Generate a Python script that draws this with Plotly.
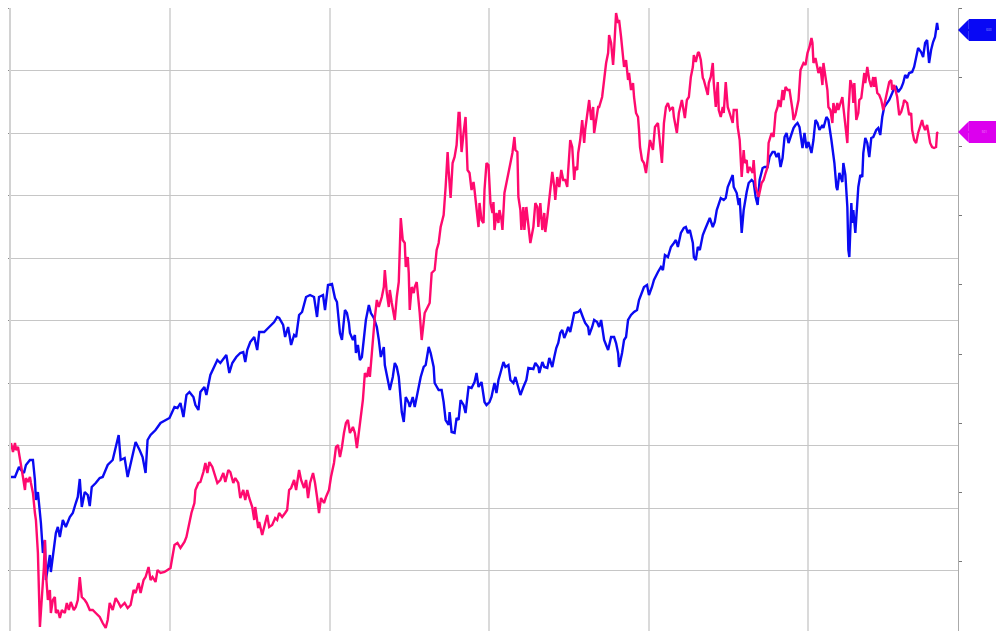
import plotly.graph_objects as go

# (day, level) readings for the two series
blue_series = [(0,156),(4,156),(8,166),(10,163),(13,160),(15,168),(19,173),(22,173),(24,153),(25,133),(27,141),(29,120),(30,110),(32,80),(34,93),(35,53),(37,66),(39,78),(40,61),(42,76),(45,100),(47,106),(49,96),(52,113),(55,106),(59,116),(62,120),(65,130),(67,136),(69,154),(71,126),(74,141),(77,138),(79,127),(81,146),(85,150),(89,155),(92,156),(97,168),(102,173),(105,186),(108,198),(110,173),(114,175),(117,156),(120,170),(125,191),(129,183),(132,176),(135,160),(137,193),(140,198),(145,203),(150,210),(155,213),(159,215),(164,226),(167,225),(170,230),(173,216),(176,238),(179,241),(183,236),(185,228),(188,223),(190,241),(194,246),(196,238),(200,258),(204,266),(207,273),(210,270),(214,276),(216,278),(219,260),(222,270),(226,276),(230,280),(233,281),(235,271),(237,283),(240,291),(244,296),(247,283),(249,301),(254,301),(258,305),(261,308),(264,311),(267,316),(269,315),(273,308),(275,296),(278,306),(281,288),(284,298),(286,296),(289,318),(292,321),(296,336),(300,338),(304,336),(307,316),(309,336),(313,338),(315,323),(318,348),(322,349),(325,335),(327,331),(330,300),(332,293),(335,323),(337,320),(339,310),(340,300),(343,293),(345,298),(346,280),(348,288),(350,273),(352,276),(355,306),(356,313),(359,328),(361,320),(364,315),(367,306),(369,293),(371,276),(374,286),(375,268),(378,253),(380,243),(383,256),(385,270),(387,266),(389,256),(392,221),(394,211),(396,236),(399,230),(400,226),(403,236),(405,226),(409,246),(411,256),(414,266),(416,268),(419,286),(421,280),(424,266),(425,250),(429,243),(432,243),(434,231),(436,213),(439,208),(440,221),(442,201),(445,200),(447,215),(449,213),(451,233),(454,228),(456,220),(459,246),(462,245),(465,251),(467,260),(469,246),(472,251),(475,231),(477,228),(480,231),(482,236),(485,250),(487,240),(489,253),(491,260),(494,271),(496,266),(499,268),(501,253),(504,250),(506,256),(509,245),(511,238),(514,246),(517,253),(519,265),(524,264),(526,270),(529,266),(530,260),(533,271),(535,266),(538,265),(540,275),(543,266),(545,276),(547,285),(549,290),(551,300),(553,303),(555,295),(557,300),(559,306),(561,301),(564,313),(565,320),(569,321),(571,323),(574,315),(576,310),(579,306),(580,298),(583,306),(585,313),(588,311),(590,306),(592,313),(595,293),(597,288),(599,283),(602,296),(605,296),(607,290),(609,280),(610,266),(613,280),(615,293),(617,296),(619,313),(622,318),(625,321),(628,323),(630,333),(633,340),(635,346),(638,348),(640,338),(643,346),(645,353),(649,361),(652,366),(654,363),(656,378),(659,376),(662,386),(665,390),(667,393),(669,386),(672,400),(675,405),(677,406),(679,400),(681,403),(684,390),(685,376),(687,373),(689,386),(691,383),(694,398),(696,403),(699,411),(701,415),(704,406),(706,411),(708,423),(710,430),(712,435),(715,433),(717,435),(719,446),(722,453),(724,458),(725,446),(728,440),(730,428),(731,435),(733,400),(735,423),(738,441),(740,450),(743,453),(745,451),(747,436),(749,428),(751,453),(754,465),(756,466),(759,466),(761,476),(764,481),(766,481),(768,476),(770,480),(772,466),(774,475),(776,496),(778,500),(780,490),(782,496),(785,505),(787,508),(789,510),(791,506),(794,485),(796,500),(798,485),(800,491),(803,480),(805,493),(807,513),(809,510),(811,503),(814,508),(815,505),(818,516),(820,513),(823,493),(825,480),(826,470),(828,446),(829,443),(831,460),(834,451),(835,470),(837,458),(839,426),(840,383),(841,376),(843,430),(844,410),(845,423),(847,400),(849,436),(850,446),(852,458),(854,456),(855,480),(857,495),(859,490),(861,476),(863,495),(865,496),(868,503),(870,505),(872,498),(874,516),(876,526),(879,531),(881,533),(884,540),(886,545),(888,546),(890,541),(893,545),(895,550),(897,558),(899,555),(901,560),(904,561),(906,566),(908,575),(910,585),(913,581),(915,576),(917,590),(919,593),(921,570),(923,583),(925,591),(927,596),(929,610),(930,603)]

pink_series = [(0,190),(2,181),(4,190),(5,183),(7,186),(9,175),(10,166),(12,156),(14,143),(15,155),(17,151),(19,156),(20,150),(22,140),(24,120),(25,113),(27,80),(28,46),(29,6),(31,36),(33,66),(34,93),(35,60),(37,33),(39,43),(40,20),(42,33),(44,36),(45,20),(47,23),(49,15),(51,23),(54,20),(56,30),(58,23),(60,31),(63,23),(65,26),(67,33),(69,56),(71,36),(74,33),(76,30),(79,23),(82,23),(85,20),(89,16),(92,10),(95,5),(97,13),(99,30),(102,23),(105,35),(108,30),(110,26),(114,30),(117,25),(120,28),(123,43),(125,40),(128,50),(130,40),(133,53),(135,56),(138,66),(140,53),(142,56),(145,51),(147,63),(150,60),(154,61),(157,63),(160,65),(164,88),(167,90),(170,85),(174,91),(176,96),(179,110),(181,120),(184,130),(185,143),(188,150),(190,151),(193,161),(195,170),(197,160),(199,171),(202,166),(205,156),(207,150),(210,153),(213,160),(215,151),(218,163),(220,161),(223,150),(225,155),(228,150),(230,135),(233,143),(235,133),(237,143),(239,135),(242,126),(244,113),(245,126),(248,105),(249,111),(252,98),(255,110),(257,118),(259,106),(262,108),(265,115),(267,113),(269,120),(272,116),(275,120),(277,123),(279,143),(281,145),(284,153),(286,143),(289,163),(291,153),(294,145),(296,153),(298,135),(300,150),(303,160),(305,150),(307,136),(309,120),(311,135),(314,130),(316,136),(319,143),(321,156),(324,170),(326,186),(328,188),(330,176),(332,186),(334,200),(336,210),(338,213),(340,200),(343,206),(345,200),(347,185),(349,200),(351,213),(353,233),(355,260),(357,256),(359,266),(360,256),(362,280),(364,306),(365,316),(367,333),(369,326),(372,336),(374,346),(375,363),(377,340),(379,326),(380,343),(382,330),(384,316),(385,313),(387,336),(389,351),(391,415),(393,393),(395,390),(396,366),(398,376),(399,360),(400,323),(402,346),(404,340),(405,346),(407,351),(409,333),(410,320),(412,293),(414,310),(415,320),(418,326),(420,330),(422,360),(425,363),(427,383),(429,390),(431,406),(434,418),(436,446),(438,481),(439,463),(441,435),(443,470),(445,476),(447,488),(449,520),(450,520),(452,481),(454,500),(456,516),(458,463),(460,460),(462,443),(464,451),(465,443),(467,423),(469,406),(470,430),(472,413),(474,410),(475,443),(477,470),(479,468),(481,430),(483,420),(484,431),(485,403),(487,420),(489,410),(490,423),(492,413),(493,403),(495,440),(497,450),(499,460),(501,473),(503,480),(505,496),(506,483),(508,481),(509,436),(511,423),(512,403),(514,426),(515,403),(517,426),(519,406),(520,400),(521,390),(524,406),(526,430),(528,426),(529,406),(531,430),(533,403),(535,420),(536,401),(538,416),(540,433),(541,446),(543,461),(545,446),(546,433),(548,456),(550,446),(552,463),(554,453),(556,453),(558,446),(559,463),(561,493),(563,486),(565,453),(566,466),(568,463),(569,480),(571,493),(573,513),(575,490),(576,503),(578,520),(580,533),(582,513),(584,526),(585,500),(587,513),(589,526),(590,526),(593,536),(595,553),(597,570),(599,580),(600,598),(602,590),(604,568),(605,583),(607,620),(609,610),(610,613),(612,596),(614,576),(615,566),(617,573),(619,553),(620,560),(622,543),(624,550),(625,536),(627,520),(629,516),(630,503),(631,486),(633,473),(635,470),(637,460),(639,476),(641,493),(644,483),(646,506),(649,510),(650,500),(653,470),(655,510),(657,526),(659,530),(661,523),(664,526),(665,516),(668,500),(670,520),(673,533),(675,523),(676,515),(678,533),(680,536),(682,556),(684,566),(685,578),(687,571),(689,580),(690,581),(692,573),(694,555),(695,553),(697,546),(699,538),(700,550),(702,556),(704,570),(705,550),(707,526),(709,551),(710,523),(712,516),(714,526),(715,520),(717,551),(719,526),(720,523),(722,516),(724,510),(725,523),(728,523),(729,506),(731,493),(733,456),(735,483),(736,470),(738,473),(739,460),(741,466),(744,460),(745,473),(747,446),(749,440),(750,436),(753,450),(755,453),(757,460),(759,466),(760,490),(763,500),(765,496),(767,520),(769,526),(770,533),(772,526),(774,543),(775,533),(777,546),(779,543),(781,543),(784,523),(785,513),(787,518),(789,528),(790,533),(792,563),(795,570),(797,568),(799,580),(801,586),(803,595),(804,590),(805,570),(807,575),(809,566),(810,560),(812,566),(814,548),(815,570),(817,556),(819,543),(820,526),(822,523),(824,510),(825,530),(827,520),(829,530),(830,523),(832,531),(834,536),(835,526),(837,506),(839,490),(840,520),(842,553),(844,546),(845,530),(846,550),(848,513),(850,520),(851,533),(853,535),(855,550),(856,560),(857,550),(859,566),(861,553),(863,546),(865,556),(866,546),(867,556),(869,540),(871,538),(873,533),(875,523),(877,533),(879,543),(881,551),(883,553),(884,543),(886,548),(888,540),(889,536),(891,518),(893,521),(895,528),(896,533),(899,530),(901,518),(903,520),(904,503),(906,493),(908,490),(910,500),(912,506),(914,513),(915,508),(917,503),(919,508),(920,501),(922,490),(924,486),(926,485),(928,486),(929,500),(930,501)]

blue_days = [d for d, v in blue_series]
blue_values = [v for d, v in blue_series]
pink_days = [d for d, v in pink_series]
pink_values = [v for d, v in pink_series]

BLUE = "#0a0af2"
PINK = "#ff0a6e"
BLUE_TAG = "#0808f5"
PINK_TAG = "#dc00ee"

fig = go.Figure()
fig.add_trace(go.Scatter(x=blue_days, y=blue_values, mode="lines",
                         line=dict(color=BLUE, width=2.4), hoverinfo="skip"))
fig.add_trace(go.Scatter(x=pink_days, y=pink_values, mode="lines",
                         line=dict(color=PINK, width=2.4), hoverinfo="skip"))
# right-hand scale
fig.add_trace(go.Scatter(x=[], y=[], yaxis="y2", hoverinfo="skip"))

def tag(value, color, width):
    return dict(x=1, xref="paper", y=value, yref="y",
                text=str(value), font=dict(size=3, color="rgba(255,255,255,0.6)"),
                showarrow=True, ax=11 + width / 2, ay=0,
                arrowhead=1, arrowsize=1.8, arrowwidth=2, arrowcolor=color,
                standoff=0, bgcolor=color, bordercolor=color,
                borderwidth=0, borderpad=0, width=width, height=22)

fig.update_layout(
    width=996, height=623,
    margin=dict(l=0, r=46, t=0, b=0),
    paper_bgcolor="white", plot_bgcolor="white",
    showlegend=False,
    xaxis=dict(range=[0, 950], tick0=0, dtick=160, showgrid=True,
               gridcolor="#dadada", gridwidth=1.5, showticklabels=False,
               zeroline=False, showline=False, ticks=""),
    yaxis=dict(range=[2, 625], tick0=0, dtick=62.5, showgrid=True,
               gridcolor="#c6c6c6", gridwidth=1, showticklabels=False,
               zeroline=False, showline=True, linecolor="#d2d2d2", linewidth=2,
               ticks="outside", ticklen=3, tickcolor="#8a8a8a"),
    yaxis2=dict(overlaying="y", side="right", range=[0, 9], dtick=1,
                showgrid=False, zeroline=False, showticklabels=False,
                showline=True, linecolor="#aaaaaa", linewidth=1,
                ticks="outside", ticklen=3, tickcolor="#777777"),
    annotations=[tag(blue_values[-1], BLUE_TAG, 40),
                 tag(pink_values[-1], PINK_TAG, 31)],
)

fig.write_html("out.html", config={"displayModeBar": False})
